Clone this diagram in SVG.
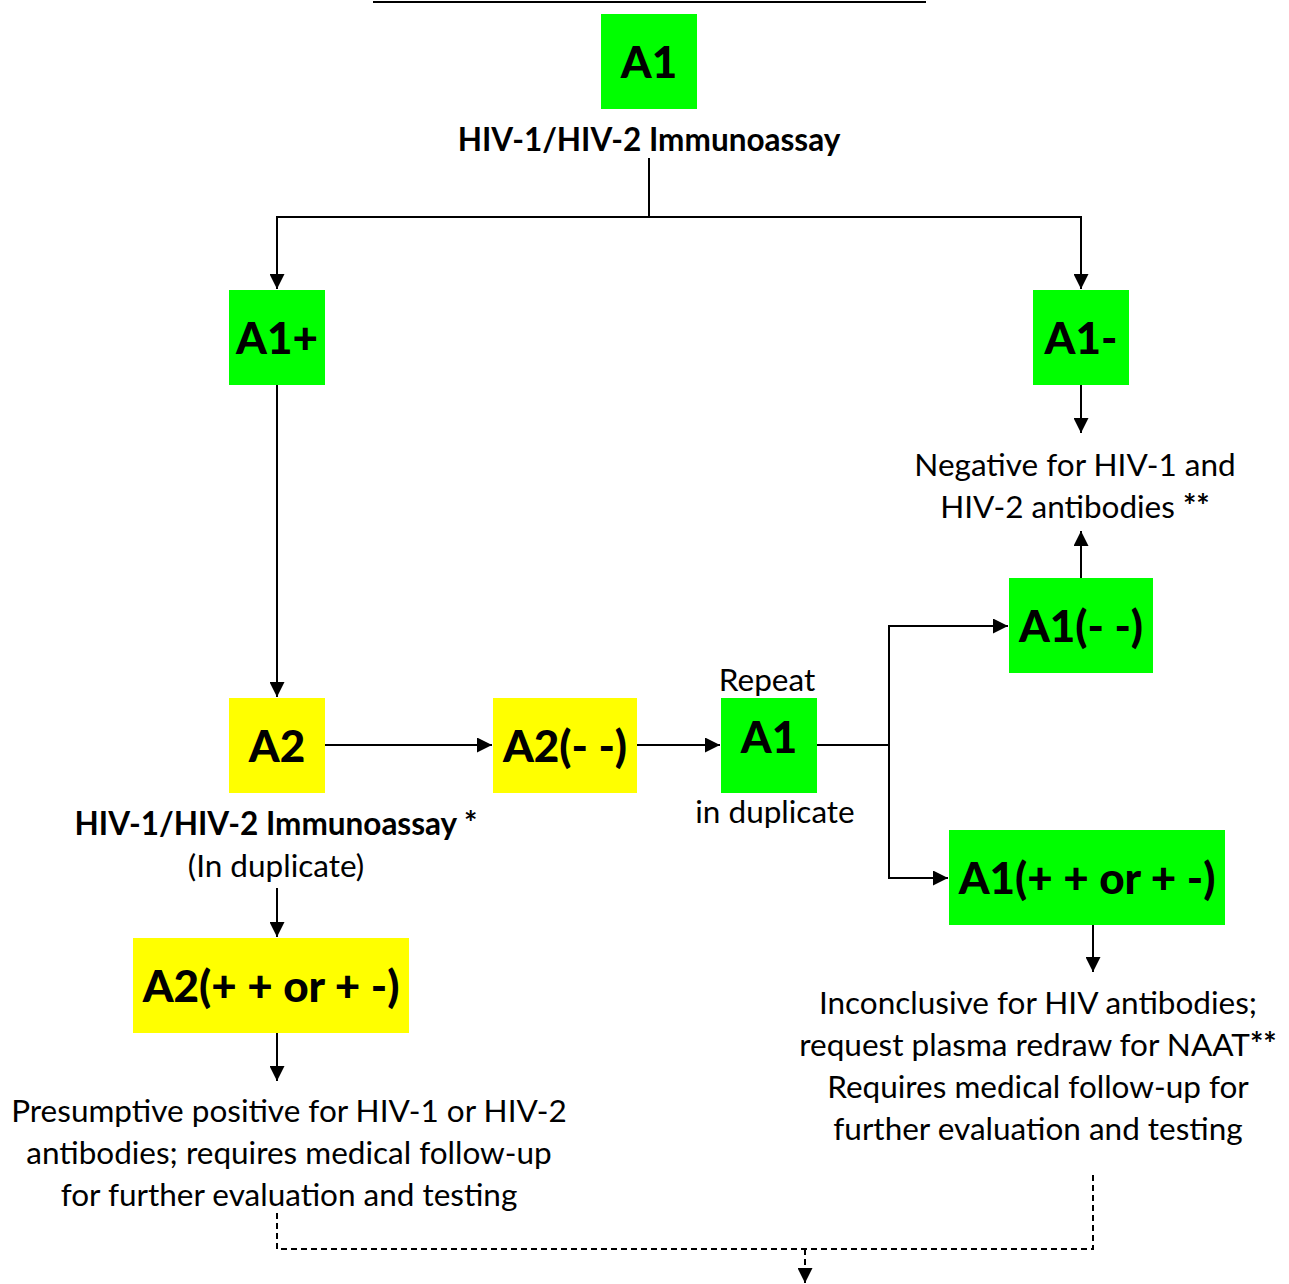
<svg xmlns="http://www.w3.org/2000/svg" width="1289" height="1284" viewBox="0 0 1289 1284">
<style>
.g{fill:#00ff00}
.y{fill:#ffff00}
.bl{font-family:Lato,"Open Sans","Liberation Sans",sans-serif;font-weight:900;font-size:44px;fill:#000;text-anchor:middle}
.t{font-family:Lato,"Open Sans","Liberation Sans",sans-serif;font-size:31.5px;fill:#000;text-anchor:middle}
.tb{font-family:Lato,"Open Sans","Liberation Sans",sans-serif;font-size:31.5px;font-weight:bold;fill:#000;text-anchor:middle}
.c{fill:none;stroke:#000;stroke-width:2}
.d{fill:none;stroke:#000;stroke-width:2;stroke-dasharray:6,4}
</style>
<defs>
<marker id="ah2" viewBox="0 0 10 10" refX="10" refY="5" markerWidth="15" markerHeight="15" markerUnits="userSpaceOnUse" orient="auto">
<path d="M0,0 L10,5 L0,10 z" fill="#000"/>
</marker>
</defs>
<line x1="373" y1="2" x2="926" y2="2" stroke="#000" stroke-width="2"/>
<g id="connectors">
<path class="c" d="M649,158 V217 H277 V289" marker-end="url(#ah2)"/>
<path class="c" d="M649,217 H1081 V289" marker-end="url(#ah2)"/>
<path class="c" d="M277,385 V697" marker-end="url(#ah2)"/>
<path class="c" d="M1081,385 V433" marker-end="url(#ah2)"/>
<path class="c" d="M1081,578 V531" marker-end="url(#ah2)"/>
<path class="c" d="M325,745 H492" marker-end="url(#ah2)"/>
<path class="c" d="M637,745 H720" marker-end="url(#ah2)"/>
<path class="c" d="M817,745 H889 V626 H1008" marker-end="url(#ah2)"/>
<path class="c" d="M889,745 V878 H948" marker-end="url(#ah2)"/>
<path class="c" d="M1093,925 V972" marker-end="url(#ah2)"/>
<path class="c" d="M277,888 V937" marker-end="url(#ah2)"/>
<path class="c" d="M277,1033 V1081" marker-end="url(#ah2)"/>
<path class="d" d="M277,1213 V1249 H1093 V1172"/>
<path class="c" d="M805,1249 V1283" stroke-dasharray="6,4" marker-end="url(#ah2)"/>
</g>
<g id="a1">
<rect class="g" x="601" y="14" width="96" height="95"/>
<text class="bl" x="649" y="78">A1</text>
<text class="tb" x="649" y="151">HIV-1/HIV-2 Immunoassay</text>
</g>
<g id="a1plus">
<rect class="g" x="229" y="290" width="96" height="95"/>
<text class="bl" x="277" y="354">A1+</text>
</g>
<g id="a1minus">
<rect class="g" x="1033" y="290" width="96" height="95"/>
<text class="bl" x="1081" y="354">A1-</text>
</g>
<g id="negative">
<text class="t" x="1075" y="476">Negative for HIV-1 and</text>
<text class="t" x="1075" y="518">HIV-2 antibodies <tspan font-weight="bold">**</tspan></text>
</g>
<g id="a1mm">
<rect class="g" x="1009" y="578" width="144" height="95"/>
<text class="bl" x="1081" y="642">A1(- -)</text>
</g>
<g id="a2">
<rect class="y" x="229" y="698" width="96" height="95"/>
<text class="bl" x="277" y="762">A2</text>
<text class="tb" x="276" y="835">HIV-1/HIV-2 Immunoassay *</text>
<text class="t" x="276" y="877">(In duplicate)</text>
</g>
<g id="a2mm">
<rect class="y" x="493" y="698" width="144" height="95"/>
<text class="bl" x="565" y="762">A2(- -)</text>
</g>
<g id="repeat">
<rect class="g" x="721" y="698" width="96" height="95"/>
<text class="t" x="767" y="691">Repeat</text>
<text class="bl" x="769" y="753">A1</text>
<text class="t" x="775" y="823">in duplicate</text>
</g>
<g id="a1pp">
<rect class="g" x="949" y="830" width="276" height="95"/>
<text class="bl" x="1087" y="894">A1(+ + or + -)</text>
</g>
<g id="inconclusive">
<text class="t" x="1038" y="1014">Inconclusive for HIV antibodies;</text>
<text class="t" x="1038" y="1056">request plasma redraw for NAAT<tspan font-weight="bold">**</tspan></text>
<text class="t" x="1038" y="1098">Requires medical follow-up for</text>
<text class="t" x="1038" y="1140">further evaluation and testing</text>
</g>
<g id="a2pp">
<rect class="y" x="133" y="938" width="276" height="95"/>
<text class="bl" x="271" y="1002">A2(+ + or + -)</text>
</g>
<g id="presumptive">
<text class="t" x="289" y="1122">Presumptive positive for HIV-1 or HIV-2</text>
<text class="t" x="289" y="1164">antibodies; requires medical follow-up</text>
<text class="t" x="289" y="1206">for further evaluation and testing</text>
</g>
</svg>
